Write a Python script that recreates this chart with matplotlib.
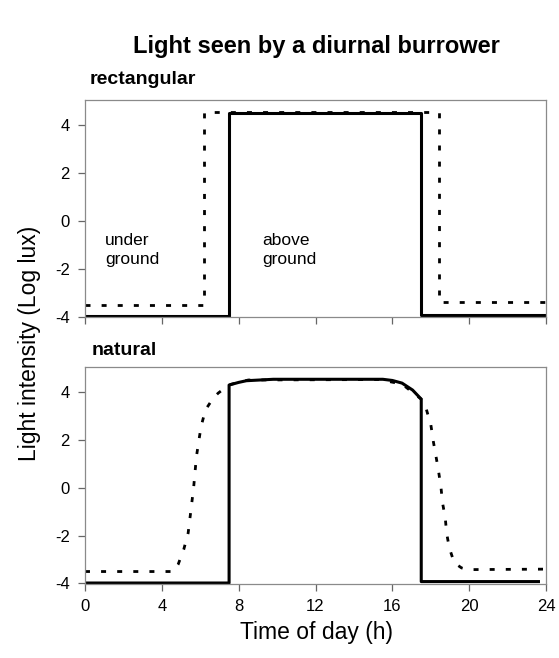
import matplotlib.pyplot as plt

plt.rcParams['font.family'] = ['Liberation Sans', 'DejaVu Sans']
plt.rcParams['axes.unicode_minus'] = False

# hours and log-lux values for the two light regimes
xticks = [0, 4, 8, 12, 16, 20, 24]
yticks = [-4, -2, 0, 2, 4]

rect_solid_t = [0, 7.5, 7.5, 17.5, 17.5, 24]
rect_solid_v = [-3.98, -3.98, 4.52, 4.52, -3.95, -3.95]
rect_dash_t = [0, 6.2, 6.2, 18.45, 18.45, 24]
rect_dash_v = [-3.5, -3.5, 4.55, 4.55, -3.4, -3.4]

nat_solid_t = [0, 7.5, 7.5, 8.0, 8.4, 9.8, 15.5, 16.0, 16.5, 17.05, 17.5, 17.5, 23.6]
nat_solid_v = [-3.98, -3.98, 4.29, 4.4, 4.47, 4.53, 4.53, 4.48, 4.37, 4.08, 3.7, -3.92, -3.92]
nat_dash_t = [0, 4.6, 4.85, 5.14, 5.37, 5.52, 5.66, 5.8, 5.92, 6.04, 6.27, 6.67,
              6.93, 7.5, 8.5, 15.3, 16.5, 17.5, 17.75, 18.0, 18.13, 18.27, 18.39,
              18.53, 18.61, 18.75, 18.82, 18.96, 19.22, 19.6, 19.91, 24]
nat_dash_v = [-3.5, -3.5, -3.2, -2.58, -1.89, -0.9, 0.05, 1.3, 1.93, 2.55, 3.25, 3.74,
              3.95, 4.3, 4.5, 4.52, 4.33, 3.7, 3.32, 2.63, 1.93, 1.3, 0.75,
              -0.01, -0.64, -1.26, -1.89, -2.51, -3.14, -3.35, -3.42, -3.4]

fig = plt.figure(figsize=(5.59, 6.58), dpi=100)
ax1 = fig.add_axes([0.152, 0.518, 0.825, 0.330])
ax2 = fig.add_axes([0.152, 0.1125, 0.825, 0.330])

for ax in (ax1, ax2):
    ax.set_xlim(0, 24)
    ax.set_ylim(-4.02, 5.05)
    ax.set_xticks(xticks)
    ax.set_yticks(yticks)
    for s in ax.spines.values():
        s.set_color('#8a8a8a')
        s.set_linewidth(0.9)
    ax.tick_params(direction='out', length=5, width=0.9, color='#666666',
                   labelsize=12, pad=6)

ax1.tick_params(axis='x', labelbottom=False)

dash = (1.8, 4.0)
ax1.plot(rect_dash_t, rect_dash_v, color='black', lw=2.0, dashes=dash)
ax1.plot(rect_solid_t, rect_solid_v, color='black', lw=2.2)
ax2.plot(nat_dash_t, nat_dash_v, color='black', lw=2.0, dashes=dash)
ax2.plot(nat_solid_t, nat_solid_v, color='black', lw=2.2)

ax1.text(1.05, -1.2, 'under\nground', fontsize=12.5, va='center', ha='left', linespacing=1.35)
ax1.text(9.2, -1.2, 'above\nground', fontsize=12.5, va='center', ha='left', linespacing=1.35)

fig.text(90 / 559, 1 - 84 / 658, 'rectangular', fontsize=14, fontweight='bold', va='baseline')
fig.text(92 / 559, 1 - 355 / 658, 'natural', fontsize=14, fontweight='bold', va='baseline')
fig.text(316 / 559, 1 - 47 / 658, 'Light seen by a diurnal burrower', fontsize=17,
         fontweight='bold', ha='center', va='center')
fig.text(30 / 559, 1 - 343 / 658, 'Light intensity (Log lux)', fontsize=16.5,
         rotation=90, ha='center', va='center')
fig.text(316 / 559, 1 - 633 / 658, 'Time of day (h)', fontsize=16.5, ha='center', va='center')

fig.savefig('out.png', dpi=100)
